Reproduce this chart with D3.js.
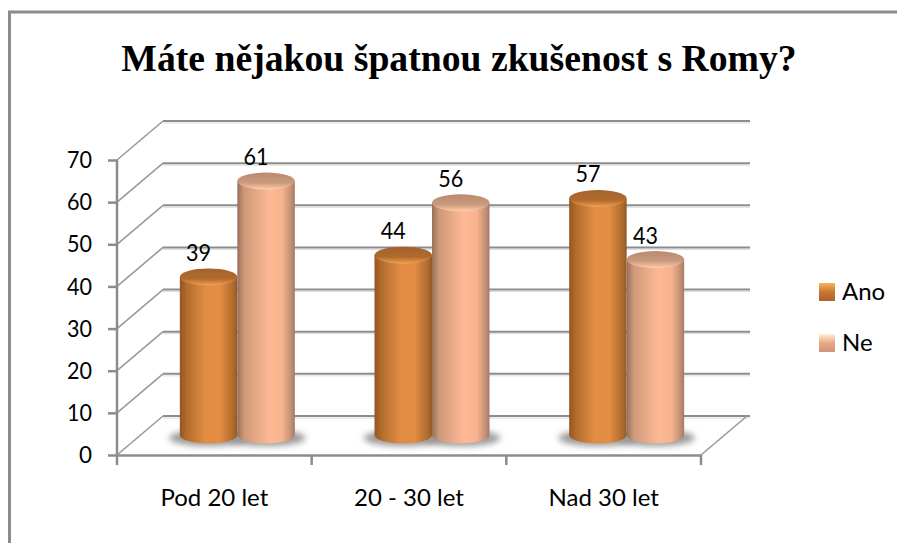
<!DOCTYPE html>
<html lang="cs"><head><meta charset="utf-8">
<style>html,body{margin:0;padding:0;background:#fff;overflow:hidden}svg{display:block}</style>
<script src="https://cdn.jsdelivr.net/npm/d3@7"></script></head><body>
<script>
const title = "Máte nějakou špatnou zkušenost s Romy?";
const categories = ["Pod 20 let", "20 - 30 let", "Nad 30 let"];
const seriesNames = ["Ano", "Ne"];
const ano = [39, 44, 57];
const ne = [61, 56, 43];
const yTicks = [0, 10, 20, 30, 40, 50, 60, 70];

const W = 897, H = 543;
const svg = d3.select("body").append("svg").attr("width", W).attr("height", H);
const defs = svg.append("defs");
const AX = "#8c8c8c";
const depthX = 46, depthY = 39;

const x = d3.scaleBand().domain(categories).range([117, 701]);
const y = d3.scaleLinear().domain([0, 70]).range([455, 160]);
const cylY = d3.scaleLinear().domain([0, 70]).range([447, 141.8]);
const inner = d3.scaleBand().domain(seriesNames).range([0, 115]);
const baseY = 435, ry = 8.5;

function grad(id, stops, v) {
  const g = defs.append("linearGradient").attr("id", id);
  if (v) g.attr("x1", 0).attr("x2", 0).attr("y1", 0).attr("y2", 1);
  stops.forEach(s => g.append("stop").attr("offset", s[0]).attr("stop-color", s[1]));
}
grad("bodyAno", [[0, "#96551f"], [0.12, "#b26c2c"], [0.45, "#e28d45"], [0.7, "#e38c44"], [0.93, "#ae6a2c"], [1, "#8f5a2b"]]);
grad("bodyNe", [[0, "#96705a"], [0.12, "#cf9878"], [0.55, "#fdb995"], [0.78, "#f8b38d"], [0.94, "#c08e72"], [1, "#a37a63"]]);
grad("topAno", [[0, "#a4622b"], [0.6, "#b06a2e"], [0.85, "#d98a42"], [1, "#f2a556"]], true);
grad("topNe", [[0, "#bb8a70"], [0.6, "#c99a7e"], [0.85, "#eeb898"], [1, "#fdd0b0"]], true);
grad("swAno", [[0, "#f7b45c"], [0.5, "#c9752f"], [1, "#a9652b"]], true);
grad("swNe", [[0, "#fff0d0"], [0.5, "#eaa783"], [1, "#d29478"]], true);
defs.append("filter").attr("id", "blur").attr("x", "-30%").attr("y", "-60%").attr("width", "160%").attr("height", "220%")
  .append("feGaussianBlur").attr("stdDeviation", 3);

// frame
svg.append("path").attr("d", `M9.5,${H}V12H${W}`).attr("fill", "none").attr("stroke", AX).attr("stroke-width", 3);

// title
svg.append("text").attr("x", 459).attr("y", 71).attr("text-anchor", "middle")
  .attr("font-family", "Liberation Serif").attr("font-weight", 700).attr("font-size", 37.7).attr("fill", "#000").text(title);

// back wall gridlines and stepped side wall
const grid = svg.append("g").attr("fill", "none");
grid.selectAll(".shade").data(yTicks).join("line").attr("class", "shade")
  .attr("x1", 163).attr("x2", 750).attr("y1", d => y(d) - depthY + 2).attr("y2", d => y(d) - depthY + 2)
  .attr("stroke", "#dcdcdc").attr("stroke-width", 1);
grid.selectAll(".back").data(yTicks).join("line").attr("class", "back")
  .attr("x1", 163).attr("x2", 750).attr("y1", d => y(d) - depthY).attr("y2", d => y(d) - depthY)
  .attr("stroke", AX).attr("stroke-width", 2);
grid.selectAll(".side").data(yTicks).join("line").attr("class", "side")
  .attr("x1", x.range()[0]).attr("x2", x.range()[0] + depthX).attr("y1", d => y(d)).attr("y2", d => y(d) - depthY)
  .attr("stroke", "#9a9a9a").attr("stroke-width", 1.6);
grid.append("line").attr("x1", x.range()[1]).attr("x2", x.range()[1] + depthX)
  .attr("y1", y(0)).attr("y2", y(0) - depthY).attr("stroke", "#9a9a9a").attr("stroke-width", 1.6);

// axes
const font = "Lato";
const yAxis = svg.append("g").attr("transform", "translate(117,0)")
  .call(d3.axisLeft(y).tickValues(yTicks).tickSize(9).tickPadding(16).tickSizeOuter(0));
const xAxis = svg.append("g").attr("transform", "translate(0,455)")
  .call(d3.axisBottom(x).tickSize(0).tickPadding(34));
[yAxis, xAxis].forEach(a => {
  a.selectAll("path.domain").attr("stroke", AX).attr("stroke-width", 2.5);
  a.selectAll("line").attr("stroke", AX).attr("stroke-width", 2.5);
  a.selectAll("text").attr("font-family", font).attr("font-size", 24).attr("fill", "#000");
});
yAxis.selectAll("text").attr("textLength", d => d === 0 ? 13 : 25).attr("lengthAdjust", "spacingAndGlyphs");
yAxis.select("path.domain").attr("d", "M0,455V160");
svg.append("g").selectAll("line").data(d3.range(categories.length + 1)).join("line")
  .attr("x1", i => x.range()[0] + i * x.step()).attr("x2", i => x.range()[0] + i * x.step())
  .attr("y1", 455).attr("y2", 465).attr("stroke", AX).attr("stroke-width", 2.5);

// cylinders
const rows = categories.flatMap((c, i) => [
  { c, s: "Ano", v: ano[i] },
  { c, s: "Ne", v: ne[i] }
]);
const cx = d => x(d.c) + x.bandwidth() / 2 + depthX / 2 - inner.bandwidth() + inner(d.s) + inner.bandwidth() / 2;
const rx = inner.bandwidth() / 2;

svg.append("g").selectAll("ellipse").data(rows).join("ellipse")
  .attr("cx", cx).attr("cy", baseY + 3).attr("rx", rx + 11).attr("ry", 8)
  .attr("fill", "#9a9a9a").attr("filter", "url(#blur)");

const cyl = svg.append("g").selectAll("g").data(rows).join("g");
cyl.append("path")
  .attr("d", d => {
    const l = cx(d) - rx, r = cx(d) + rx, t = cylY(d.v);
    return `M${l},${t}V${baseY}A${rx},${ry} 0 0 0 ${r},${baseY}V${t}Z`;
  })
  .attr("fill", d => `url(#body${d.s})`);
cyl.append("ellipse")
  .attr("cx", cx).attr("cy", d => cylY(d.v)).attr("rx", rx).attr("ry", ry)
  .attr("fill", d => `url(#top${d.s})`);

// value labels
svg.append("g").selectAll("text").data(rows).join("text")
  .attr("x", d => cx(d) - 10).attr("y", d => cylY(d.v) - 16)
  .attr("text-anchor", "middle").attr("font-family", font).attr("font-size", 24)
  .attr("textLength", 25).attr("lengthAdjust", "spacingAndGlyphs").attr("fill", "#000")
  .text(d => d.v);

// legend
const legendY = d3.scalePoint().domain(seriesNames).range([292, 343]);
const leg = svg.append("g").selectAll("g").data(seriesNames).join("g")
  .attr("transform", d => `translate(819,${legendY(d)})`);
leg.append("rect").attr("x", 0).attr("y", -9).attr("width", 16).attr("height", 18)
  .attr("fill", d => `url(#sw${d})`);
leg.append("text").attr("x", 23).attr("y", 8).attr("font-family", font).attr("font-size", 24).attr("fill", "#000").text(d => d);
</script></body></html>
